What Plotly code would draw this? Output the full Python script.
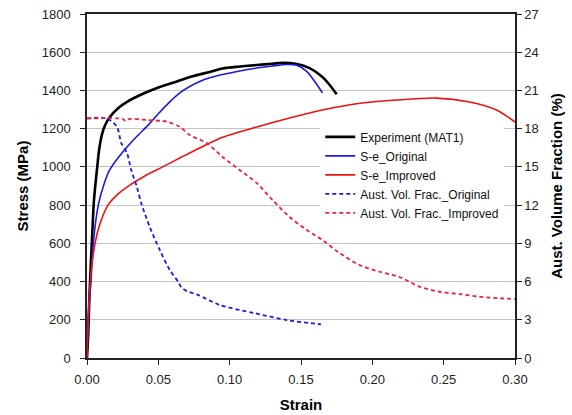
import plotly.graph_objects as go

# Stress-strain curves (stress in MPa)
exp_strain = [0.0, 0.0009, 0.0016, 0.0026, 0.0037, 0.0049, 0.0072, 0.0085, 0.0105, 0.0125, 0.016,
              0.022, 0.028, 0.040, 0.051, 0.063, 0.074, 0.086, 0.095, 0.107, 0.119, 0.130,
              0.137, 0.147, 0.156, 0.165, 0.170, 0.175]
exp_stress = [0, 130, 304, 478, 654, 827, 1001, 1090, 1170, 1215, 1261,
              1308, 1340, 1385, 1418, 1447, 1474, 1497, 1515, 1525, 1533, 1540,
              1544, 1538, 1517, 1470, 1430, 1380]

orig_strain = [0.0, 0.0012, 0.0028, 0.0044, 0.0079, 0.0115, 0.0156, 0.021, 0.027, 0.035, 0.043,
               0.050, 0.058, 0.066, 0.072, 0.079, 0.086, 0.095, 0.107, 0.119, 0.130, 0.140,
               0.147, 0.154, 0.161, 0.165]
orig_stress = [0, 250, 400, 600, 800, 900, 980, 1040, 1095, 1160, 1220,
               1278, 1340, 1392, 1421, 1447, 1466, 1483, 1502, 1517, 1528, 1536,
               1532, 1500, 1432, 1387]

impr_strain = [0.0, 0.0009, 0.0023, 0.0056, 0.009, 0.0147, 0.022, 0.030, 0.040, 0.053, 0.066,
               0.079, 0.095, 0.119, 0.142, 0.165, 0.193, 0.217, 0.245, 0.268, 0.287, 0.300]
impr_stress = [0, 200, 400, 600, 700, 800, 860, 905, 950, 1000, 1050,
               1099, 1155, 1209, 1256, 1298, 1334, 1350, 1360, 1340, 1298, 1235]

# Austenite volume fraction (%)
avf_orig_strain = [0.0, 0.014, 0.021, 0.024, 0.028, 0.031, 0.035, 0.038, 0.044, 0.051, 0.058,
                   0.064, 0.066, 0.070, 0.078, 0.093, 0.117, 0.140, 0.164]
avf_orig = [18.8, 18.8, 18.13, 16.88, 16.09, 14.76, 13.42, 12.17, 10.28, 8.48, 6.91,
            5.97, 5.57, 5.25, 4.94, 4.16, 3.53, 2.98, 2.64]

avf_impr_strain = [0.0, 0.025, 0.027, 0.030, 0.042, 0.056, 0.065, 0.072, 0.084, 0.095, 0.107,
                   0.119, 0.130, 0.142, 0.154, 0.165, 0.177, 0.191, 0.205, 0.219, 0.233,
                   0.247, 0.261, 0.275, 0.289, 0.300]
avf_impr = [18.8, 18.76, 18.6, 18.76, 18.68, 18.55, 18.15, 17.5, 16.87, 15.78, 14.76,
            13.73, 12.4, 11.07, 10.05, 9.26, 8.24, 7.3, 6.77, 6.36, 5.6,
            5.2, 5.02, 4.81, 4.69, 4.63]

SMOOTH = dict(shape="spline", smoothing=0.8)

fig = go.Figure()
fig.add_trace(go.Scatter(x=exp_strain, y=exp_stress, mode="lines", name="Experiment (MAT1)",
                         line=dict(color="#000000", width=2.6, **SMOOTH)))
fig.add_trace(go.Scatter(x=orig_strain, y=orig_stress, mode="lines", name="S-e_Original",
                         line=dict(color="#1a1ae6", width=1.6, **SMOOTH)))
fig.add_trace(go.Scatter(x=impr_strain, y=impr_stress, mode="lines", name="S-e_Improved",
                         line=dict(color="#ee1111", width=1.6, **SMOOTH)))
fig.add_trace(go.Scatter(x=avf_orig_strain, y=avf_orig, mode="lines", yaxis="y2",
                         name="Aust. Vol. Frac._Original",
                         line=dict(color="#1a1ae6", width=1.8, dash="4px,3px", **SMOOTH)))
fig.add_trace(go.Scatter(x=avf_impr_strain, y=avf_impr, mode="lines", yaxis="y2",
                         name="Aust. Vol. Frac._Improved",
                         line=dict(color="#ee2240", width=1.8, dash="4px,3px", **SMOOTH)))

tick_font = dict(family="Liberation Sans, Arial, sans-serif", size=13, color="#222222")
title_font = dict(family="Liberation Sans, Arial, sans-serif", size=15, color="#000000")

fig.update_layout(
    width=572, height=415,
    margin=dict(l=87, r=57, t=14, b=57),
    paper_bgcolor="white", plot_bgcolor="white",
    font=tick_font,
    xaxis=dict(range=[0, 0.30], dtick=0.05, tickformat=".2f", automargin=False,
               showline=True, linecolor="#222222", linewidth=1.5, mirror=True,
               ticks="outside", ticklen=5, tickcolor="#222222", ticklabelstandoff=4,
               showgrid=False, zeroline=False,
               title=dict(text="<b>Strain</b>", font=title_font, standoff=13)),
    yaxis=dict(range=[0, 1800], dtick=200, automargin=False,
               showline=True, linecolor="#222222", linewidth=1.5, mirror=True,
               ticks="outside", ticklen=5, tickcolor="#222222", ticklabelstandoff=7,
               showgrid=True, gridcolor="#c4c4c4", gridwidth=1, zeroline=False,
               title=dict(text="<b>Stress (MPa)</b>", font=title_font, standoff=9)),
    yaxis2=dict(range=[0, 27], dtick=3, overlaying="y", side="right", automargin=False,
                showline=True, linecolor="#222222", linewidth=1.5,
                ticks="outside", ticklen=5, tickcolor="#222222",
                showgrid=False, zeroline=False,
                title=dict(text="<b>Aust. Volume Fraction (%)</b>", font=title_font, standoff=14)),
    legend=dict(x=0.545, y=0.685, xanchor="left", yanchor="top",
                bgcolor="white", borderwidth=0, tracegroupgap=0,
                font=dict(family="Liberation Sans, Arial, sans-serif", size=12, color="#111111")),
    showlegend=True,
)

fig.write_html("out.html")
